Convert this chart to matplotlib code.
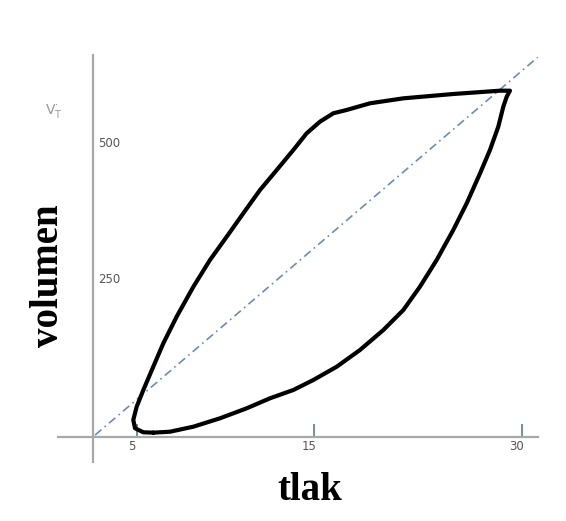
import matplotlib.pyplot as plt
from matplotlib import transforms

# pressure-volume loop (tlak in cmH2O-ish units, volumen in ml)
# lower (inspiratory) branch up to the top corner, then the upper branch back down
tlak = [4.43, 5.66, 7.38, 9.34, 11.30, 13.01, 14.73, 16.20, 17.92, 19.63, 21.35,
        22.82, 24.04, 25.27, 26.49, 27.48, 28.46, 29.19, 29.80, 30.17, 30.42, 30.66,
        29.93, 26.49, 22.82, 20.37, 18.65, 17.67, 16.69, 15.71, 14.73, 13.51, 12.28,
        11.05, 9.83, 8.60, 7.38, 6.15, 5.17, 4.43, 3.70, 3.21, 2.96, 3.09, 3.70, 4.43]
volumen = [6.8, 8.3, 16.2, 29.4, 45.1, 60.8, 73.9, 89.6, 110.5, 136.8, 168.2,
           199.7, 236.3, 278.3, 325.5, 367.5, 414.6, 451.3, 487.9, 519.3, 535.1, 544.5,
           544.5, 539.3, 532.5, 524.7, 514.2, 509.0, 495.8, 477.5, 451.3, 419.8, 388.4,
           351.7, 314.9, 278.3, 236.3, 189.2, 147.3, 110.5, 73.9, 47.6, 26.7, 13.7, 7.4, 6.8]

# compliance line
diag_x = [0.15, 32.7]
diag_y = [3.0, 597.0]

xtick_pos = [3.24, 16.25, 31.54]
xtick_lab = ['5', '15', '30']
ytick_pos = [250, 464]
ytick_lab = ['250', '500']

fig = plt.figure(figsize=(5.66, 5.21), dpi=100)
ax = fig.add_axes([0, 0, 1, 1])
ax.set_xlim(-6.84, 34.78)
ax.set_ylim(-132.1, 687.1)

ax.plot(diag_x, diag_y, color='#6a8db5', lw=1.2, linestyle=(0, (5, 2.5, 1, 2.5)))
ax.plot(tlak, volumen, color='black', lw=3.0, solid_joinstyle='round', solid_capstyle='round')

# axes through the origin
for s in ['top', 'right']:
    ax.spines[s].set_visible(False)
ax.spines['left'].set_position(('data', 0))
ax.spines['bottom'].set_position(('data', 0))
ax.spines['left'].set_bounds(-39.3, 600)
ax.spines['bottom'].set_bounds(-2.6, 32.7)
for s in ['left', 'bottom']:
    ax.spines[s].set_color('#a8a8a8')
    ax.spines[s].set_linewidth(1.6)

ax.set_xticks(xtick_pos, xtick_lab)
ax.tick_params(axis='x', direction='in', length=9.5, width=1.2, color='#4f7db0',
               pad=2, labelsize=8.5, labelcolor='#555555')
shift = transforms.ScaledTranslation(-5 / 100, 0, fig.dpi_scale_trans)
for lab in ax.get_xticklabels():
    lab.set_transform(lab.get_transform() + shift)

ax.set_yticks(ytick_pos, ytick_lab)
ax.tick_params(axis='y', length=0, pad=-4, labelsize=8.5, labelcolor='#555555')
for lab in ax.get_yticklabels():
    lab.set_horizontalalignment('left')

ax.text(-2.9, 512, r'$\mathrm{V}^{\cdot}_{\mathrm{T}}$', fontsize=10, color='#999999',
        ha='center', va='center')

fig.text(49 / 566, 1 - 276 / 521, 'volumen', rotation=90, ha='center', va='center',
         family='Liberation Serif', weight='bold', fontsize=28)
fig.text(310 / 566, 1 - 491 / 521, 'tlak', ha='center', va='center',
         family='Liberation Serif', weight='bold', fontsize=28)

fig.savefig('out.png', dpi=100)
